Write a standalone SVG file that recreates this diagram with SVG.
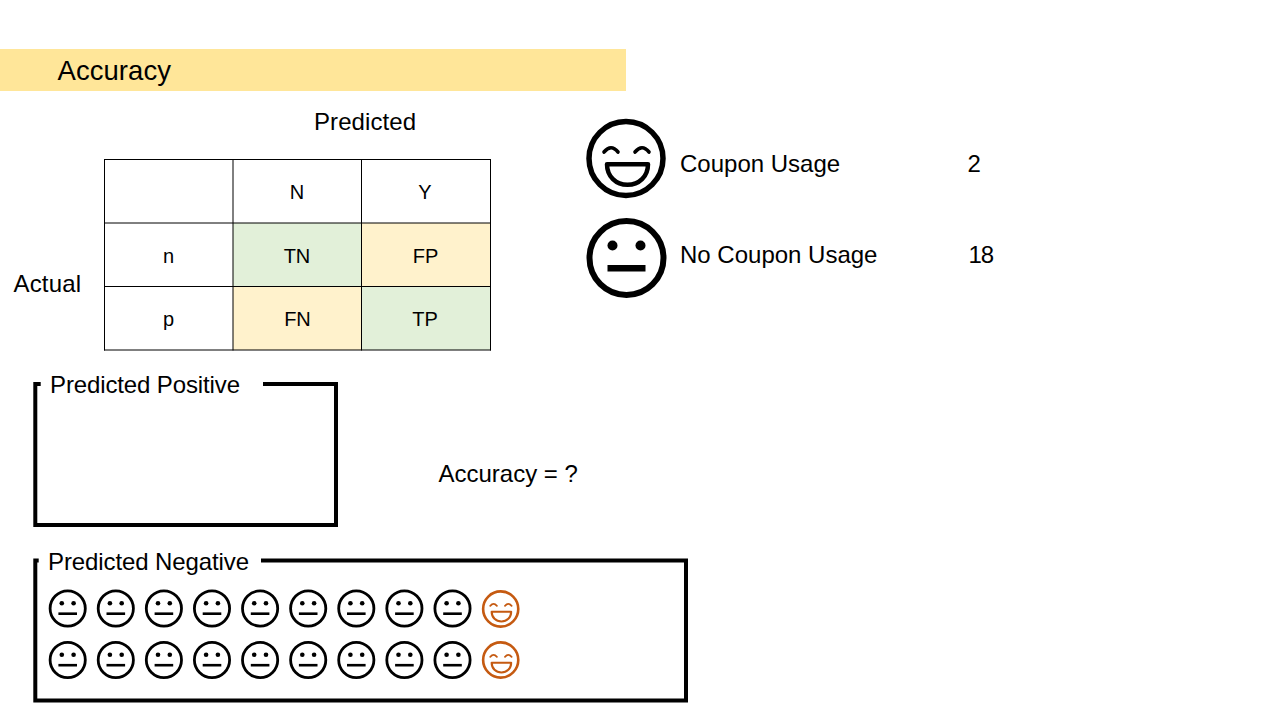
<svg xmlns="http://www.w3.org/2000/svg" width="1280" height="720" viewBox="0 0 1280 720">
<style>
text{font-family:"Liberation Sans",Arial,sans-serif;fill:#000;font-size:24px}
.t{font-size:20px;text-anchor:middle}
.line{stroke:#000;stroke-width:1;fill:none}
.frame{stroke:#000;stroke-width:4;fill:none;stroke-linecap:butt}
.black{color:#000}
.orange{color:#C55A11}
</style>
<defs>
<g id="neutral">
<circle cx="0" cy="0" r="37" fill="none" stroke="currentColor" stroke-width="6"/>
<circle cx="-14" cy="-12.500" r="5" fill="currentColor"/>
<circle cx="14" cy="-12.500" r="5" fill="currentColor"/>
<rect x="-19" y="7" width="38" height="6.500" fill="currentColor"/>
</g>
<g id="neutral-small">
<circle cx="0" cy="0" r="17.600" fill="none" stroke="currentColor" stroke-width="2.800"/>
<circle cx="-5.900" cy="-5.300" r="2.300" fill="currentColor"/>
<circle cx="5.900" cy="-5.300" r="2.300" fill="currentColor"/>
<rect x="-9.300" y="3.900" width="18.600" height="2.600" fill="currentColor"/>
</g>
<g id="happy">
<circle cx="0" cy="0" r="37" fill="none" stroke="currentColor" stroke-width="5.500"/>
<path d="M-22,-6.500 Q-15,-15 -8,-6.500 M9,-6.500 Q16,-15 23,-6.500" fill="none" stroke="currentColor" stroke-width="3.600" stroke-linecap="round"/>
<path d="M-19,5.700 H22 C22,18 13,26.300 1.500,26.300 C-10,26.300 -19,18 -19,5.700 Z" fill="none" stroke="currentColor" stroke-width="4.500" stroke-linejoin="round"/>
</g>
</defs>
<g id="banner">
<rect x="0" y="49" width="626" height="42" fill="#FFE699"/>
<text x="57.500" y="80" style="font-size:27.500px" textLength="113.500">Accuracy</text>
</g>
<g id="predicted-label"><text x="314" y="130" textLength="102">Predicted</text></g>
<g id="actual-label"><text x="13.500" y="292" textLength="67.500">Actual</text></g>
<g id="matrix">
<rect x="233" y="223" width="128.500" height="63.500" fill="#E2F0D9"/>
<rect x="361.500" y="223" width="128.500" height="63.500" fill="#FFF2CC"/>
<rect x="233" y="286.500" width="128.500" height="63.500" fill="#FFF2CC"/>
<rect x="361.500" y="286.500" width="128.500" height="63.500" fill="#E2F0D9"/>
<path class="line" d="M104.500,159.500H490.500M104,223H491M104,286.500H491M104,350H491M104.500,159V350.500M233,159V350.500M361.500,159V350.500M490.500,159V350.500"/>
<text class="t" x="297" y="199">N</text>
<text class="t" x="425" y="199">Y</text>
<text class="t" x="168.500" y="263">n</text>
<text class="t" x="297" y="263">TN</text>
<text class="t" x="425.500" y="263">FP</text>
<text class="t" x="168.500" y="326">p</text>
<text class="t" x="297.500" y="326">FN</text>
<text class="t" x="425" y="326">TP</text>
</g>
<g id="legend-coupon">
<use href="#happy" class="black" transform="translate(626,158.500)"/>
<text x="680" y="172">Coupon Usage</text>
<text x="967.500" y="172">2</text>
</g>
<g id="legend-no-coupon">
<use href="#neutral" class="black" transform="translate(626.500,258)"/>
<text x="680" y="263">No Coupon Usage</text>
<text x="968.500" y="263" textLength="25.500">18</text>
</g>
<g id="accuracy-formula"><text x="438.500" y="482">Accuracy = ?</text></g>
<g id="predicted-positive">
<path class="frame" d="M40.700,384H35.300V525H336V384H263"/>
<text x="50" y="393" textLength="190">Predicted Positive</text>
</g>
<g id="predicted-negative">
<path class="frame" d="M38.700,560.500H35.300V700.500H686V560.500H261"/>
<text x="48" y="570" textLength="201">Predicted Negative</text>
<g id="row-1">
<use href="#neutral-small" class="black" transform="translate(67.700,608.500)"/>
<use href="#neutral-small" class="black" transform="translate(115.800,608.500)"/>
<use href="#neutral-small" class="black" transform="translate(163.900,608.500)"/>
<use href="#neutral-small" class="black" transform="translate(212,608.500)"/>
<use href="#neutral-small" class="black" transform="translate(260.100,608.500)"/>
<use href="#neutral-small" class="black" transform="translate(308.200,608.500)"/>
<use href="#neutral-small" class="black" transform="translate(356.300,608.500)"/>
<use href="#neutral-small" class="black" transform="translate(404.400,608.500)"/>
<use href="#neutral-small" class="black" transform="translate(452.500,608.500)"/>
<use href="#happy" class="orange" transform="translate(500.700,609) scale(.475)"/>
</g>
<g id="row-2">
<use href="#neutral-small" class="black" transform="translate(67.700,660)"/>
<use href="#neutral-small" class="black" transform="translate(115.800,660)"/>
<use href="#neutral-small" class="black" transform="translate(163.900,660)"/>
<use href="#neutral-small" class="black" transform="translate(212,660)"/>
<use href="#neutral-small" class="black" transform="translate(260.100,660)"/>
<use href="#neutral-small" class="black" transform="translate(308.200,660)"/>
<use href="#neutral-small" class="black" transform="translate(356.300,660)"/>
<use href="#neutral-small" class="black" transform="translate(404.400,660)"/>
<use href="#neutral-small" class="black" transform="translate(452.500,660)"/>
<use href="#happy" class="orange" transform="translate(500.700,660) scale(.475)"/>
</g>
</g>
</svg>
